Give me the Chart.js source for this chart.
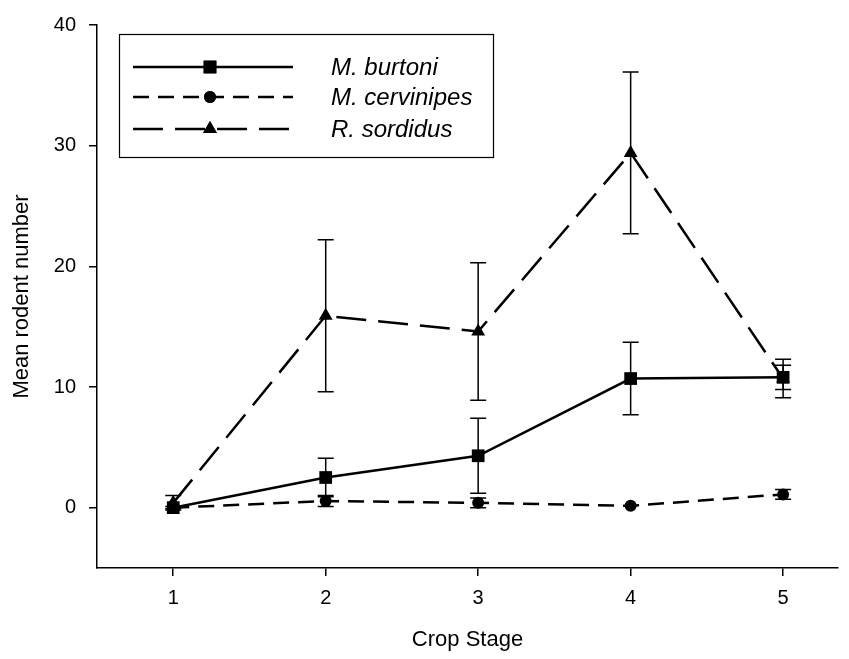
<!DOCTYPE html>
<html lang="en">
<head>
  <meta charset="UTF-8" />
  <title>Mean rodent number by crop stage</title>
  <script src="https://cdn.jsdelivr.net/npm/chart.js@4.4.0/dist/chart.umd.min.js"></script>
  <style>
    html, body { margin: 0; padding: 0; background: #fff; }
  </style>
</head>
<body>
  <canvas id="rodentChart" width="849" height="659"></canvas>
  <script>
    // values
    const stages = [1, 2, 3, 4, 5];
    const yTicks = [0, 10, 20, 30, 40];
    const speciesNames = ['M. burtoni', 'M. cervinipes', 'R. sordidus'];

    const burtoni = [0, 2.5, 4.3, 10.7, 10.8];
    const burtoniErr = [0.1, 1.6, 3.1, 3.0, 1.0];
    const cervinipes = [0, 0.55, 0.4, 0.15, 1.1];
    const cervinipesErr = [0, 0.45, 0.4, 0, 0.4];
    const sordidus = [0.4, 15.9, 14.6, 29.4, 10.7];
    const sordidusErr = [0.6, 6.3, 5.7, 6.7, 1.6];

    const FONT = 'Arial, "Liberation Sans", sans-serif';
    Chart.defaults.font.family = FONT;
    Chart.defaults.color = '#000';

    const toPoints = vals => stages.map((s, i) => ({ x: s, y: vals[i] }));

    const styles = [
      { pointStyle: 'rect', radius: 9, dash: [] },
      { pointStyle: 'circle', radius: 6, dash: [16, 9] },
      { pointStyle: 'triangle', radius: 8, dash: [30, 12] }
    ];

    function makeSet(i, vals, errs) {
      return {
        label: speciesNames[i],
        data: toPoints(vals),
        errors: errs,
        borderColor: '#000',
        backgroundColor: '#000',
        borderWidth: 2.5,
        borderDash: styles[i].dash,
        pointStyle: styles[i].pointStyle,
        pointRadius: styles[i].radius,
        pointHoverRadius: styles[i].radius,
        pointBorderWidth: 0,
        tension: 0,
        clip: false
      };
    }

    // vertical error bars with caps
    const errorBars = {
      id: 'errorBars',
      beforeDatasetsDraw(chart) {
        const ctx = chart.ctx;
        const xs = chart.scales.x, ys = chart.scales.y;
        ctx.save();
        ctx.strokeStyle = '#000';
        ctx.lineWidth = 1.5;
        chart.data.datasets.forEach(ds => {
          ds.data.forEach((p, i) => {
            const e = ds.errors[i];
            if (!e) return;
            const px = xs.getPixelForValue(p.x);
            const top = ys.getPixelForValue(p.y + e);
            const bot = ys.getPixelForValue(p.y - e);
            ctx.beginPath();
            ctx.moveTo(px, top); ctx.lineTo(px, bot);
            ctx.moveTo(px - 8, top); ctx.lineTo(px + 8, top);
            ctx.moveTo(px - 8, bot); ctx.lineTo(px + 8, bot);
            ctx.stroke();
          });
        });
        ctx.restore();
      }
    };

    // boxed legend, line sample with marker in the middle
    const boxLegend = {
      id: 'boxLegend',
      afterDraw(chart) {
        const ctx = chart.ctx;
        ctx.save();
        ctx.strokeStyle = '#000';
        ctx.lineWidth = 1.2;
        ctx.strokeRect(119.5, 34.5, 374, 123);
        const rows = [67, 97, 129];
        chart.data.datasets.forEach((ds, i) => {
          const y = rows[i];
          ctx.lineWidth = 2.5;
          ctx.setLineDash(ds.borderDash);
          ctx.beginPath();
          ctx.moveTo(133, y);
          ctx.lineTo(293, y);
          ctx.stroke();
          ctx.setLineDash([]);
          ctx.fillStyle = '#000';
          Chart.helpers.drawPoint(ctx, { pointStyle: ds.pointStyle, radius: ds.pointRadius, rotation: 0, borderWidth: 0 }, 210, y);
          ctx.fill();
          ctx.font = 'italic 24px ' + FONT;
          ctx.textBaseline = 'middle';
          ctx.textAlign = 'left';
          ctx.fillText(ds.label, 331, y + 1);
        });
        ctx.restore();
      }
    };

    new Chart(document.getElementById('rodentChart'), {
      type: 'line',
      data: {
        datasets: [
          makeSet(0, burtoni, burtoniErr),
          makeSet(1, cervinipes, cervinipesErr),
          makeSet(2, sordidus, sordidusErr)
        ]
      },
      options: {
        responsive: false,
        animation: false,
        events: [],
        layout: { padding: { left: 0, top: 19, right: 11, bottom: 0 } },
        plugins: { legend: { display: false }, tooltip: { enabled: false } },
        scales: {
          x: {
            type: 'linear',
            min: 0.5,
            max: 5.36,
            afterBuildTicks: s => { s.ticks = stages.map(v => ({ value: v })); },
            afterFit: s => { s.height = 91; },
            grid: { drawOnChartArea: false, drawTicks: true, tickLength: 8, color: '#000', lineWidth: 1.5 },
            border: { display: true, color: '#000', width: 1.5 },
            ticks: { font: { size: 20 }, padding: 10, maxRotation: 0 },
            title: { display: true, text: 'Crop Stage', font: { size: 22 }, padding: { top: 0, bottom: 6 } }
          },
          y: {
            min: -5,
            max: 40,
            afterBuildTicks: s => { s.ticks = yTicks.map(v => ({ value: v })); },
            afterFit: s => { s.width = 97; },
            grid: { drawOnChartArea: false, drawTicks: true, tickLength: 8, color: '#000', lineWidth: 1.5 },
            border: { display: true, color: '#000', width: 1.5 },
            ticks: { font: { size: 20 }, padding: 13 },
            title: { display: true, text: 'Mean rodent number', font: { size: 22 }, padding: { top: 9, bottom: 0 } }
          }
        }
      },
      plugins: [errorBars, boxLegend]
    });
  </script>
</body>
</html>
